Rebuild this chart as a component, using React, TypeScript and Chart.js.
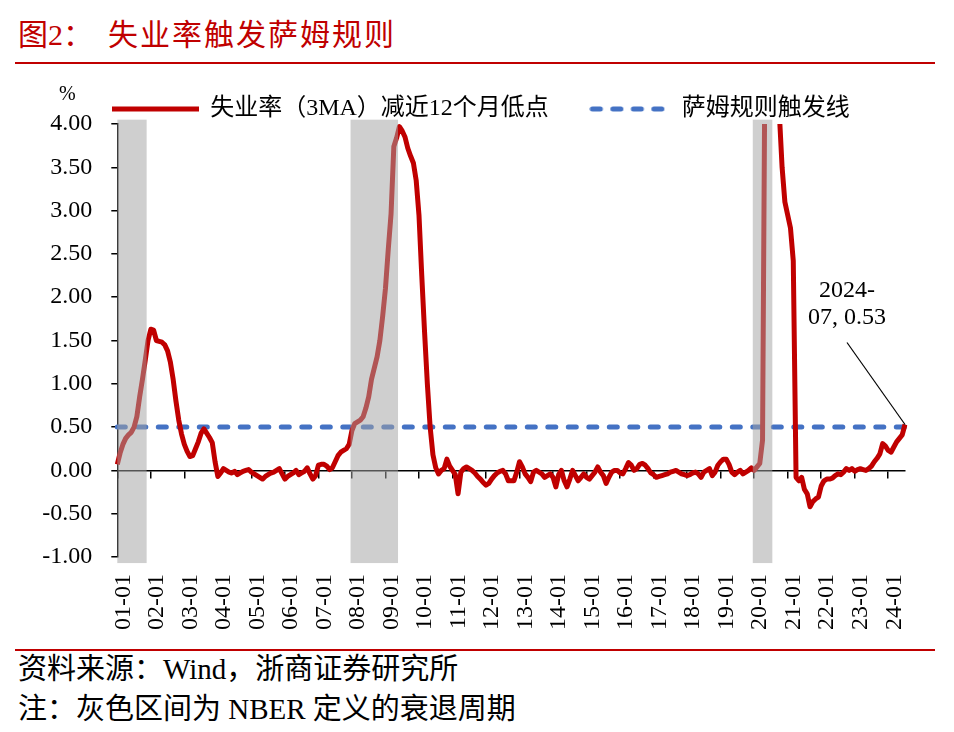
import React, { useEffect, useRef } from 'react';
import { Chart, registerables } from 'chart.js';

Chart.register(...registerables);

// ---------- categories ----------
const firstYear = 2001;
const lastYear = 2024;
const lastMonth = 7;
const monthLabels: string[] = [];
for (let y = firstYear; y <= lastYear; y++) {
  for (let m = 1; m <= 12; m++) {
    if (y === lastYear && m > lastMonth) break;
    monthLabels.push(`${String(y % 100).padStart(2, '0')}-${String(m).padStart(2, '0')}`);
  }
}

// ---------- series: unemployment 3MA minus prior 12-month low (%) ----------
const y2001 = [0.07, 0.2, 0.3, 0.37, 0.41, 0.44, 0.5, 0.62, 0.85, 1.05, 1.27, 1.5];
const y2002 = [1.63, 1.62, 1.5, 1.49, 1.48, 1.45, 1.38, 1.25, 1.05, 0.8, 0.58, 0.42];
const y2003 = [0.3, 0.22, 0.16, 0.17, 0.25, 0.33, 0.43, 0.48, 0.43, 0.38, 0.32, 0.1];
const y2004 = [-0.07, -0.03, 0.02, 0.0, -0.02, -0.03, -0.01, -0.05, -0.03, -0.01, 0.0, 0.01];
const y2005 = [-0.02, -0.04, -0.06, -0.08, -0.1, -0.07, -0.05, -0.03, -0.02, 0.0, 0.02, -0.04];
const y2006 = [-0.1, -0.07, -0.05, -0.03, 0.0, -0.05, -0.03, -0.01, 0.03, -0.04, -0.1, -0.06];
const y2007 = [0.06, 0.07, 0.07, 0.05, 0.01, 0.03, 0.1, 0.17, 0.21, 0.23, 0.25, 0.3];
const y2008 = [0.46, 0.54, 0.56, 0.58, 0.62, 0.72, 0.85, 1.05, 1.18, 1.31, 1.5, 1.78];
const y2009 = [2.1, 2.55, 2.96, 3.74, 3.84, 3.97, 3.92, 3.85, 3.72, 3.63, 3.55, 3.35];
const y2010 = [2.95, 2.25, 1.6, 1.0, 0.5, 0.18, 0.03, -0.04, 0.0, 0.02, 0.13, 0.05];
const y2011 = [0.0, -0.05, -0.27, -0.02, 0.02, 0.04, 0.02, 0.0, -0.03, -0.07, -0.1, -0.14];
const y2012 = [-0.17, -0.15, -0.1, -0.06, -0.03, -0.01, 0.0, -0.04, -0.12, -0.12, -0.12, -0.02];
const y2013 = [0.1, 0.04, -0.04, -0.08, -0.13, -0.02, 0.0, -0.02, -0.04, -0.08, -0.06, -0.04];
const y2014 = [-0.08, -0.19, -0.05, 0.0, -0.12, -0.19, -0.1, 0.0, -0.06, -0.12, -0.08, -0.04];
const y2015 = [-0.08, -0.1, -0.06, -0.02, 0.04, -0.02, -0.06, -0.15, -0.08, -0.02, 0.0, 0.0];
const y2016 = [-0.03, -0.04, 0.02, 0.09, 0.06, 0.0, 0.02, 0.07, 0.08, 0.06, 0.02, -0.03];
const y2017 = [-0.05, -0.08, -0.07, -0.06, -0.05, -0.04, -0.02, -0.01, 0.0, -0.02, -0.04, -0.05];
const y2018 = [-0.06, -0.05, -0.03, -0.02, -0.04, -0.08, -0.02, 0.0, 0.02, -0.06, -0.02, 0.06];
const y2019 = [0.1, 0.13, 0.13, 0.07, -0.02, -0.05, -0.02, 0.0, -0.04, -0.02, 0.0, 0.03];
const y2020 = [0.0, 0.04, 0.08, 0.35, 5.5, 9.43, 7.9, 6.3, 5.23, 4.13, 3.5, 3.1];
const y2021 = [2.95, 2.8, 2.42, -0.08, -0.12, -0.08, -0.22, -0.27, -0.42, -0.36, -0.33, -0.31];
const y2022 = [-0.18, -0.12, -0.1, -0.1, -0.09, -0.06, -0.04, -0.05, -0.02, 0.02, 0.0, 0.02];
const y2023 = [-0.01, 0.01, 0.02, 0.01, 0.0, 0.02, 0.05, 0.1, 0.14, 0.19, 0.31, 0.28];
const y2024 = [0.23, 0.21, 0.27, 0.33, 0.37, 0.41, 0.53];

const sahmValues = [
  ...y2001, ...y2002, ...y2003, ...y2004, ...y2005, ...y2006, ...y2007, ...y2008,
  ...y2009, ...y2010, ...y2011, ...y2012, ...y2013, ...y2014, ...y2015, ...y2016,
  ...y2017, ...y2018, ...y2019, ...y2020, ...y2021, ...y2022, ...y2023, ...y2024,
];

const triggerLevel = 0.5;

// NBER recession periods (as drawn)
const recessions: [string, string][] = [
  ['01-01', '01-11'],
  ['08-01', '09-05'],
  ['20-01', '20-07'],
];

const yTickMin = -1;
const yTickMax = 4;
const yTickStep = 0.5;

const seriesName = '失业率（3MA）减近12个月低点';
const triggerName = '萨姆规则触发线';

// ---------- styles ----------
const RED = '#C00000';
const BLUE = '#4472C4';
const BAND = 'rgba(163,163,163,0.52)';
const LATIN = '"Liberation Serif"';
const FONT = '"Liberation Serif", "Noto Sans CJK SC", serif';
const bandLow = -1.07;
const bandHigh = 4.05;

function makeSample(color: string, width: number, dashed: boolean): HTMLCanvasElement {
  const c = document.createElement('canvas');
  c.width = width;
  c.height = 8;
  const g = c.getContext('2d')!;
  g.strokeStyle = color;
  g.lineWidth = 5;
  g.beginPath();
  if (dashed) {
    g.lineCap = 'round';
    g.setLineDash([8, 12.5]);
    g.moveTo(3, 4);
    g.lineTo(width - 3, 4);
  } else {
    g.lineCap = 'butt';
    g.moveTo(0, 4);
    g.lineTo(width, 4);
  }
  g.stroke();
  return c;
}

export default function App() {
  const ref = useRef<HTMLCanvasElement>(null);

  useEffect(() => {
    if (!ref.current) return;
    const idx = (l: string) => monthLabels.indexOf(l);
    const redSample = makeSample(RED, 87, false);
    const blueSample = makeSample(BLUE, 76, true);

    // recession shading, drawn over the lines through the x / y scales
    const bandPlugin = {
      id: 'recessionBands',
      afterDatasetsDraw(chart: any) {
        const { ctx, chartArea } = chart;
        const xs = chart.scales.x;
        const ys = chart.scales.y;
        ctx.save();
        ctx.fillStyle = BAND;
        for (const [a, b] of recessions) {
          const x0 = Math.max(xs.getPixelForValue(idx(a) - 0.5), chartArea.left);
          const x1 = Math.min(xs.getPixelForValue(idx(b) + 0.5), chartArea.right);
          const y0 = ys.getPixelForValue(bandHigh);
          const y1 = ys.getPixelForValue(bandLow);
          ctx.fillRect(x0, y0, x1 - x0, y1 - y0);
        }
        ctx.restore();
      },
    };

    const annotPlugin = {
      id: 'annot',
      afterDatasetsDraw(chart: any) {
        const { ctx, chartArea } = chart;
        const meta = chart.getDatasetMeta(0);
        const pt = meta.data[meta.data.length - 1];
        if (!pt) return;
        const lastLabel = monthLabels[monthLabels.length - 1];
        const lastVal = sahmValues[sahmValues.length - 1];
        const line1 = `20${lastLabel.slice(0, 2)}-`;
        const line2 = `${lastLabel.slice(3)}, ${lastVal.toFixed(2)}`;
        ctx.save();
        ctx.strokeStyle = '#000';
        ctx.lineWidth = 1.2;
        ctx.beginPath();
        ctx.moveTo(pt.x - 58, pt.y - 82);
        ctx.lineTo(pt.x, pt.y);
        ctx.stroke();
        ctx.fillStyle = '#000';
        ctx.font = `24px ${LATIN}`;
        ctx.textAlign = 'center';
        ctx.textBaseline = 'middle';
        ctx.fillText(line1, pt.x - 58, pt.y - 134);
        ctx.fillText(line2, pt.x - 58, pt.y - 107);
        ctx.font = `20px ${LATIN}`;
        ctx.fillText('%', chartArea.left - 50, chartArea.top - 29);
        ctx.restore();
      },
    };

    // keep the legend row where the reference has it
    const legendShift = {
      id: 'legendShift',
      afterLayout(chart: any) {
        if (chart.legend) chart.legend.left += 28;
      },
    };

    const chart = new Chart(ref.current, {
      type: 'line',
      data: {
        labels: monthLabels,
        datasets: [
          {
            type: 'line',
            label: seriesName,
            data: sahmValues,
            borderColor: RED,
            backgroundColor: RED,
            borderWidth: 5,
            pointRadius: 0,
            tension: 0,
            borderJoinStyle: 'round',
            order: 1,
          },
          {
            type: 'line',
            label: triggerName,
            data: [
              { x: monthLabels[0], y: triggerLevel },
              { x: monthLabels[monthLabels.length - 1], y: triggerLevel },
            ] as any,
            borderColor: BLUE,
            backgroundColor: BLUE,
            borderWidth: 5,
            borderDash: [8, 12.5],
            borderCapStyle: 'round',
            pointRadius: 0,
            order: 2,
          },
        ],
      },
      options: {
        responsive: false,
        animation: false,
        events: [],
        layout: { padding: { left: 30, right: 49, top: 0, bottom: 0 } },
        plugins: {
          tooltip: { enabled: false },
          legend: {
            position: 'top',
            align: 'center',
            maxHeight: 63,
            labels: {
              usePointStyle: true,
              pointStyleWidth: 85,
              padding: 36,
              color: '#000',
              font: { size: 24, family: FONT },
              generateLabels: (chart: any) => {
                const items = (Chart.defaults.plugins.legend.labels as any).generateLabels(chart);
                return items.map((it: any) => ({
                  ...it,
                  pointStyle: it.datasetIndex === 0 ? redSample : blueSample,
                }));
              },
            },
          } as any,
        },
        scales: {
          x: {
            type: 'category',
            position: 'bottom',
            offset: false,
            grid: { display: false, drawTicks: false, offset: false },
            border: { display: false },
            ticks: {
              autoSkip: false,
              maxRotation: 90,
              minRotation: 90,
              padding: 17,
              labelOffset: 6,
              color: '#000',
              font: { size: 24, family: FONT },
              callback: (_v: any, i: number) => (monthLabels[i].endsWith('-01') ? monthLabels[i] : ''),
            },
            afterFit: (s: any) => {
              s.height = 93;
            },
          },
          x2: {
            type: 'category',
            axis: 'x',
            position: { y: 0 } as any,
            offset: false,
            grid: {
              display: true,
              drawOnChartArea: false,
              drawTicks: true,
              tickLength: 7,
              offset: false,
              lineWidth: 1.5,
              color: (c: any) => (monthLabels[c.index] && monthLabels[c.index].endsWith('-01') ? '#000' : 'rgba(0,0,0,0)'),
            },
            border: { display: true, color: '#000', width: 1.5 },
            ticks: { display: false, autoSkip: false },
          } as any,
          y: {
            type: 'linear',
            position: 'left',
            min: yTickMin,
            max: yTickMax,
            grid: { drawOnChartArea: false, drawTicks: true, tickLength: 6, color: '#000', lineWidth: 1.5 },
            border: { display: true, color: '#000', width: 1.5 },
            ticks: {
              stepSize: yTickStep,
              padding: 19,
              color: '#000',
              font: { size: 24, family: FONT },
              callback: (v: any) => Number(v).toFixed(2),
            },
            afterFit: (s: any) => {
              s.width = 87.3;
            },
          },
        },
      },
      plugins: [bandPlugin, annotPlugin, legendShift],
    });
    return () => chart.destroy();
  }, []);

  const cjk = '"Liberation Serif", "Noto Sans CJK SC", serif';
  return (
    <div style={{ position: 'absolute', left: 0, top: 0, width: 954, height: 732, background: '#fff', fontFamily: cjk }}>
      <canvas ref={ref} width={954} height={589} style={{ position: 'absolute', left: 0, top: 61, width: 954, height: 589 }} />
      <div style={{ position: 'absolute', left: 18, top: 18, fontSize: 30, lineHeight: '34px', color: RED, whiteSpace: 'nowrap' }}>图2：</div>
      <div style={{ position: 'absolute', left: 108, top: 18, fontSize: 30, lineHeight: '34px', color: RED, letterSpacing: 2, whiteSpace: 'nowrap' }}>失业率触发萨姆规则</div>
      <div style={{ position: 'absolute', left: 15, top: 62, width: 920, height: 2, background: RED }} />
      <div style={{ position: 'absolute', left: 15, top: 649, width: 920, height: 2, background: RED }} />
      <div style={{ position: 'absolute', left: 18, top: 652, fontSize: 29, lineHeight: '34px', color: '#000', whiteSpace: 'nowrap' }}>资料来源：Wind，浙商证券研究所</div>
      <div style={{ position: 'absolute', left: 18, top: 692, fontSize: 29, lineHeight: '34px', color: '#000', whiteSpace: 'nowrap' }}>注：灰色区间为 NBER 定义的衰退周期</div>
    </div>
  );
}
